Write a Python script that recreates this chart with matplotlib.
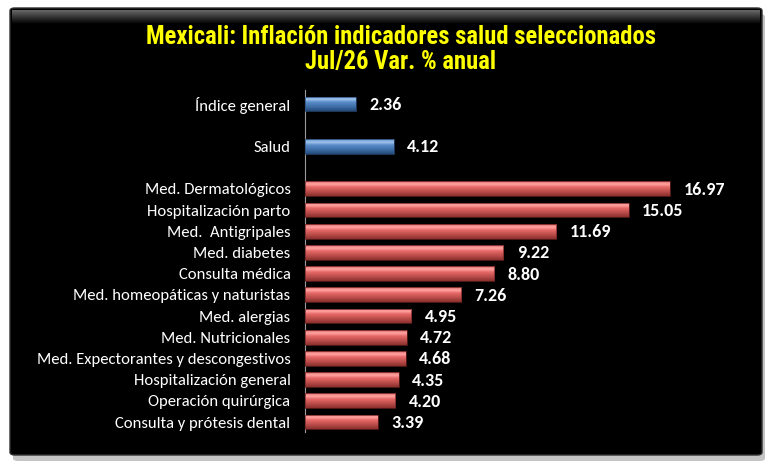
import matplotlib
matplotlib.use("Agg")
import matplotlib.pyplot as plt
import numpy as np
from matplotlib.patches import FancyBboxPatch
from matplotlib.colors import LinearSegmentedColormap

categories = ["Índice general", "Salud", "Med. Dermatológicos", "Hospitalización parto",
              "Med.  Antigripales", "Med. diabetes", "Consulta médica",
              "Med. homeopáticas y naturistas", "Med. alergias", "Med. Nutricionales",
              "Med. Expectorantes y descongestivos", "Hospitalización general",
              "Operación quirúrgica", "Consulta y prótesis dental"]
values = [2.36, 4.12, 16.97, 15.05, 11.69, 9.22, 8.80, 7.26, 4.95, 4.72, 4.68, 4.35, 4.20, 3.39]
groups = ["blue", "blue"] + ["red"] * 12
title = "Mexicali: Inflación indicadores salud seleccionados\nJul/26 Var. % anual"

label_font = ["Carlito", "DejaVu Sans"]
title_font = ["Roboto Condensed", "Archivo Narrow", "DejaVu Sans"]

# positions: blank slot after each of the first two bars
pos = [0, 2] + list(range(4, 16))

fig = plt.figure(figsize=(7.7, 4.7), dpi=100)
fig.patch.set_facecolor("white")

W, H = 770, 470
def fx(px): return px / W
def fy(py): return 1 - py / H

# shadow
sh = FancyBboxPatch((fx(13), fy(461)), fx(752), (455 - 8) / H, boxstyle="round,pad=0,rounding_size=0.006",
                    transform=fig.transFigure, facecolor="#c4c4c4", edgecolor="none", zorder=0)
fig.patches.append(sh)
# panel
panel = FancyBboxPatch((fx(10), fy(455)), fx(752), (455 - 8) / H, boxstyle="round,pad=0,rounding_size=0.006",
                       transform=fig.transFigure, facecolor="black", edgecolor="#303030", lw=1, zorder=1)
fig.patches.append(panel)
# top bevel gradient
bev = fig.add_axes([fx(12), fy(24), fx(748), 14 / H], zorder=2)
g = np.linspace(0, 1, 50).reshape(-1, 1)
bev.imshow(g, aspect="auto", cmap=LinearSegmentedColormap.from_list("b", ["#707070", "#000000"]),
           extent=[0, 1, 0, 1], origin="upper")
bev.axis("off")

ax = fig.add_axes([fx(305), fy(432), fx(690 - 305), (432 - 90) / H], zorder=3)
ax.set_facecolor("none")

# gradient from bottom (0) to top (1) of a bar
cmaps = {
    "blue": LinearSegmentedColormap.from_list(
        "bl", [(0, "#24497a"), (0.3, "#3f6fa8"), (0.6, "#5a8ccb"), (0.78, "#9cc0ea"), (0.9, "#8ab2e0"), (1, "#3b5f8c")]),
    "red": LinearSegmentedColormap.from_list(
        "rd", [(0, "#8a2f2d"), (0.3, "#bb4d4b"), (0.6, "#e56866"), (0.78, "#ffa09e"), (0.9, "#f59290"), (1, "#a03e3c")]),
}
edge = {"blue": "#2c4f7c", "red": "#6e2422"}

h = 0.7
for p, v, grp in zip(pos, values, groups):
    bars = ax.barh(p, v, height=h, color="none", edgecolor=edge[grp], lw=0.5, zorder=4)
    b = bars[0]
    grad = np.linspace(0, 1, 100).reshape(-1, 1)
    im = ax.imshow(grad, aspect="auto", cmap=cmaps[grp], extent=[0, v, p + h / 2, p - h / 2],
                   origin="lower", zorder=3, interpolation="bilinear")
    im.set_clip_path(b)
    ax.text(v + 0.62, p + 0.05, f"{v:.2f}", color="white", fontsize=13, fontweight="bold",
            family=label_font, va="center", ha="left", zorder=5)

ax.set_xlim(0, 17.9)
ax.set_ylim(15.47, -0.66)
ax.set_yticks(pos)
ax.set_yticklabels(categories, color="white", fontsize=12, family=label_font)
ax.tick_params(axis="y", length=0, pad=10.5)
ax.set_xticks([])
for s in ["top", "right", "bottom"]:
    ax.spines[s].set_visible(False)
ax.spines["left"].set_color("#9a9a9a")
ax.spines["left"].set_linewidth(0.8)

fig.text(fx(401), fy(49.5), title, color="#ffff00", fontsize=17.7, fontweight="bold",
         family=title_font, ha="center", va="center", linespacing=1.05, zorder=5)

fig.savefig("out.png", dpi=100, facecolor="white")
